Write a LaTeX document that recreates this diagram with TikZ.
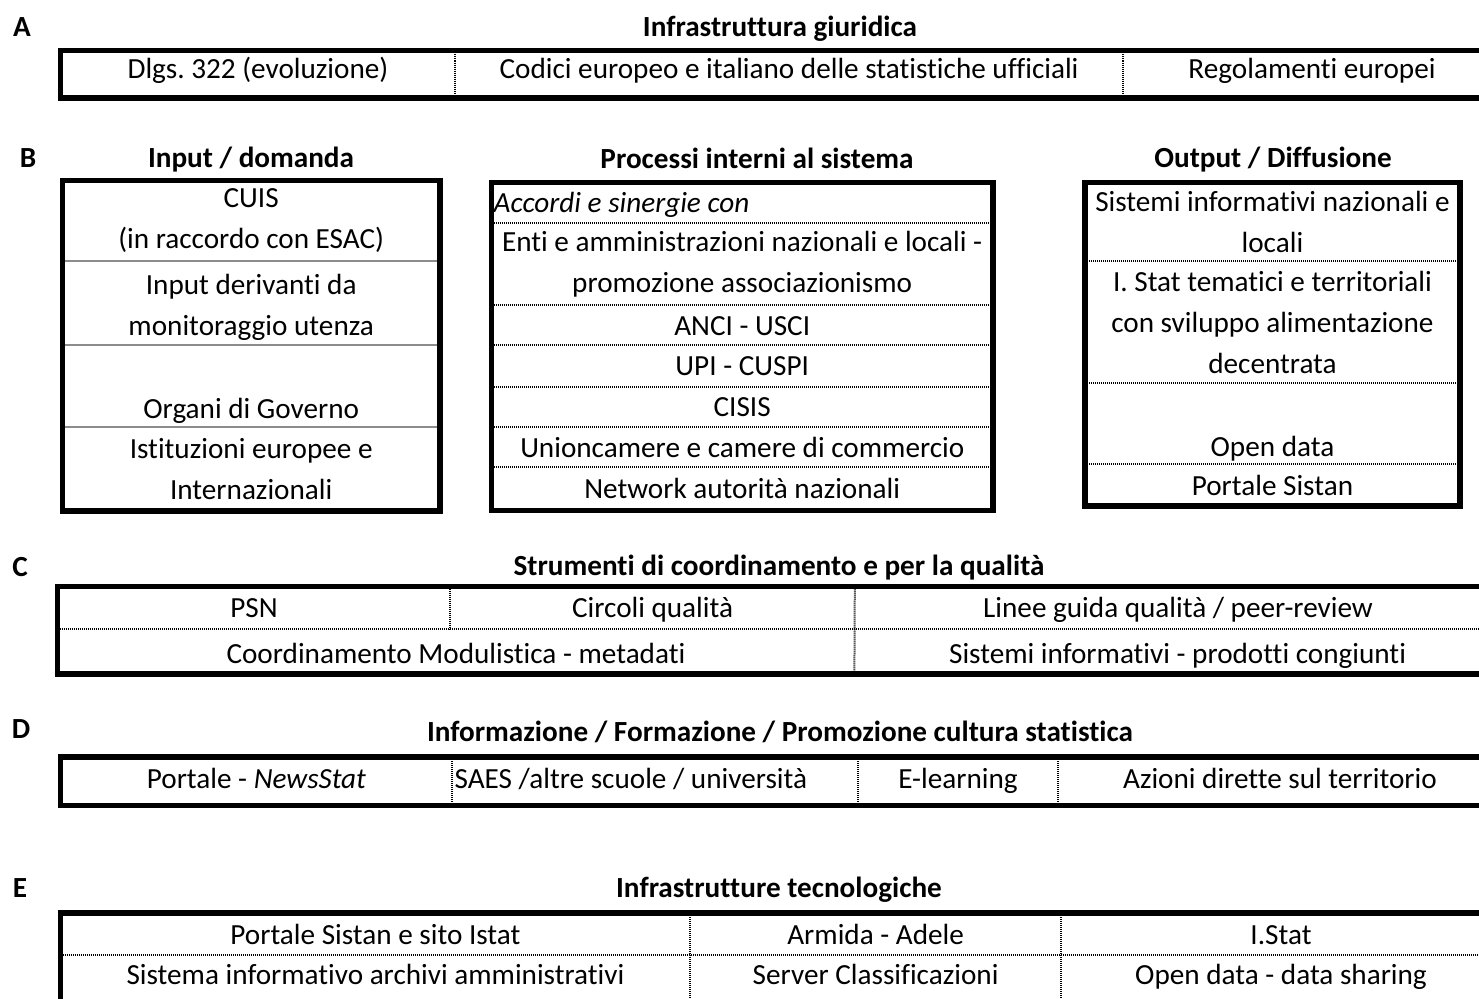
\documentclass[tikz,border=0pt]{standalone}
\usepackage{fontspec}
\setmainfont{Carlito}[Ligatures=NoCommon]
\usepackage{tikz}
\frenchspacing
\tikzstyle{cell}=[rectangle,inner sep=0pt,align=center]
\tikzstyle{line1}=[cell,text height=24pt,text depth=4pt]
\tikzstyle{hiline}=[cell,text height=21pt,text depth=13pt]
\tikzstyle{loline}=[cell,text height=26pt,text depth=2pt]
\tikzstyle{frame}=[line width=5.5pt,line join=miter]
\tikzstyle{sep}=[line width=2pt,dash pattern=on 1pt off 1pt]
\tikzstyle{greysep}=[line width=2pt,draw=black!45]
\tikzstyle{head}=[font=\fontsize{29.2}{41}\selectfont\bfseries,text height=21pt,text depth=7pt]
\usetikzlibrary{positioning}

\begin{document}
\begin{tikzpicture}[x=1pt,y=-1pt,font=\fontsize{29.2}{41}\selectfont]
            \useasboundingbox (0,0) rectangle (1479,998);

            % A PART

            \node[head] (la) at (22,30) {A};
            \node[head] (ta) at (780,30) {Infrastruttura giuridica};
            \node[hiline,anchor=north west,minimum width=394.5pt,minimum height=47pt] (a1) at (60.5,50.5) {Dlgs. 322 (evoluzione)};
            \node[hiline,right=0pt of a1,minimum width=667pt,minimum height=47pt] (a2) {Codici europeo e italiano delle statistiche ufficiali};
            \node[hiline,right=0pt of a2,minimum width=378pt,minimum height=47pt] (a3) {Regolamenti europei};

            \draw[sep] (a1.north east) -- (a1.south east);
            \draw[sep] (a2.north east) -- (a2.south east);
            \draw[frame] (a1.north west) rectangle (a3.south east);

            % B PART

            \node[head] (lb) at (28,160.5) {B};
            \node[head] (tb1) at (251,160.5) {Input / domanda};
            \node[head] (tb2) at (757,161.5) {Processi interni al sistema};
            \node[head] (tb3) at (1273,160.5) {Output / Diffusione};

            % input
            \node[cell,anchor=north west,minimum width=377pt,minimum height=80.5pt] (in1) at (62.5,180.5) {CUIS\\(in raccordo con ESAC)};
            \node[cell,below=0pt of in1,minimum width=377pt,minimum height=83pt] (in2) {\strut Input derivanti da\\monitoraggio utenza};
            \node[cell,below=0pt of in2,minimum width=377pt,minimum height=82pt] (in3) {\strut\\Organi di Governo};
            \node[cell,below=0pt of in3,minimum width=377pt,minimum height=83.5pt] (in4) {Istituzioni europee e\\Internazionali};

            \draw[greysep] (in1.south west) -- (in1.south east);
            \draw[greysep] (in2.south west) -- (in2.south east);
            \draw[greysep] (in3.south west) -- (in3.south east);
            \draw[frame] (in1.north west) rectangle (in4.south east);

            % processi
            \node[line1,anchor=north west,text width=497pt,inner xsep=2pt,align=flush left,minimum height=40.5pt] (pr1) at (491.5,182.5) {\itshape Accordi e sinergie con};
            \node[cell,below=0pt of pr1,minimum width=501pt,minimum height=81pt] (pr2) {Enti e amministrazioni nazionali e locali -\\promozione associazionismo};
            \node[line1,below=0pt of pr2,minimum width=501pt,minimum height=40pt] (pr3) {ANCI - USCI};
            \node[line1,below=0pt of pr3,minimum width=501pt,minimum height=41pt] (pr4) {UPI - CUSPI};
            \node[line1,below=0pt of pr4,minimum width=501pt,minimum height=40pt] (pr5) {CISIS};
            \node[line1,below=0pt of pr5,minimum width=501pt,minimum height=40pt] (pr6) {Unioncamere e camere di commercio};
            \node[line1,below=0pt of pr6,minimum width=501pt,minimum height=42.5pt] (pr7) {Network autorità nazionali};

            \foreach \r in {pr1,pr2,pr3,pr4,pr5,pr6}
                \draw[sep] (\r.south west) -- (\r.south east);
            \draw[frame] (pr1.north west) rectangle (pr7.south east);

            % output
            \node[cell,anchor=north west,minimum width=374.5pt,minimum height=78.5pt] (out1) at (1085,182.5) {Sistemi informativi nazionali e\\locali};
            \node[cell,below=0pt of out1,minimum width=374.5pt,minimum height=121pt] (out2) {I. Stat tematici e territoriali\\con sviluppo alimentazione\\decentrata};
            \node[cell,below=0pt of out2,minimum width=374.5pt,minimum height=81pt] (out3) {\strut\\Open data};
            \node[line1,below=0pt of out3,minimum width=374.5pt,minimum height=41.5pt] (out4) {Portale Sistan};

            \foreach \r in {out1,out2,out3}
                \draw[sep] (\r.south west) -- (\r.south east);
            \draw[frame] (out1.north west) rectangle (out4.south east);

            % C PART

            \node[head] (lc) at (20,569.5) {C};
            \node[head] (tc) at (779,568.5) {Strumenti di coordinamento e per la qualità};
            \node[line1,anchor=north west,minimum width=392.5pt,minimum height=42.5pt] (c1) at (57.5,586.5) {PSN};
            \node[line1,right=0pt of c1,minimum width=404pt,minimum height=42.5pt] (c2) {Circoli qualità};
            \node[line1,right=0pt of c2,minimum width=646pt,minimum height=42.5pt] (c3) {Linee guida qualità / peer-review};
            \node[loline,anchor=north west,minimum width=796.5pt,minimum height=44pt] (c4) at (c1.south west) {Coordinamento Modulistica - metadati};
            \node[loline,right=0pt of c4,minimum width=646pt,minimum height=44pt] (c5) {Sistemi informativi - prodotti congiunti};

            \draw[sep] (c1.north east) -- (c1.south east);
            \draw[sep] (c2.north east) -- (c4.south east);
            \draw[sep] (c1.south west) -- (c3.south east);
            \draw[frame] (c1.north west) rectangle (c5.south east);

            % D PART

            \node[head] (ld) at (21,731.5) {D};
            \node[head] (td) at (780,734) {Informazione / Formazione / Promozione cultura statistica};
            \node[cell,text height=22pt,text depth=8pt,anchor=north west,minimum width=391.5pt,minimum height=48pt] (d1) at (60.5,757) {Portale - \textit{NewsStat}};
            \node[cell,text height=22pt,text depth=8pt,right=0pt of d1,text width=401pt,inner xsep=2pt,align=flush left,minimum height=48pt] (d2) {SAES /altre scuole / università};
            \node[cell,text height=22pt,text depth=8pt,right=0pt of d2,minimum width=200pt,minimum height=48pt] (d3) {E-learning};
            \node[cell,text height=22pt,text depth=8pt,right=0pt of d3,minimum width=443pt,minimum height=48pt] (d4) {Azioni dirette sul territorio};

            \draw[sep] (d1.north east) -- (d1.south east);
            \draw[sep] (d2.north east) -- (d2.south east);
            \draw[sep] (d3.north east) -- (d3.south east);
            \draw[frame] (d1.north west) rectangle (d4.south east);

            % E PART

            \node[head] (le) at (20,890) {E};
            \node[head] (te) at (779,890) {Infrastrutture tecnologiche};
            \node[line1,anchor=north west,minimum width=629.5pt,minimum height=42pt] (e1) at (60.5,913) {Portale Sistan e sito Istat};
            \node[line1,right=0pt of e1,minimum width=370pt,minimum height=42pt] (e2) {Armida - Adele};
            \node[line1,right=0pt of e2,minimum width=440pt,minimum height=42pt] (e3) {I.Stat};
            \node[cell,text height=22pt,text depth=10pt,anchor=north west,minimum width=629.5pt,minimum height=46pt] (e4) at (e1.south west) {Sistema informativo archivi amministrativi};
            \node[cell,text height=22pt,text depth=10pt,right=0pt of e4,minimum width=370pt,minimum height=46pt] (e5) {Server Classificazioni};
            \node[cell,text height=22pt,text depth=10pt,right=0pt of e5,minimum width=440pt,minimum height=46pt] (e6) {Open data - data sharing};

            \draw[sep] (e1.north east) -- (e4.south east);
            \draw[sep] (e2.north east) -- (e5.south east);
            \draw[sep] (e1.south west) -- (e3.south east);
            \draw[frame] (e1.north west) rectangle (e6.south east);

\end{tikzpicture}
\end{document}
